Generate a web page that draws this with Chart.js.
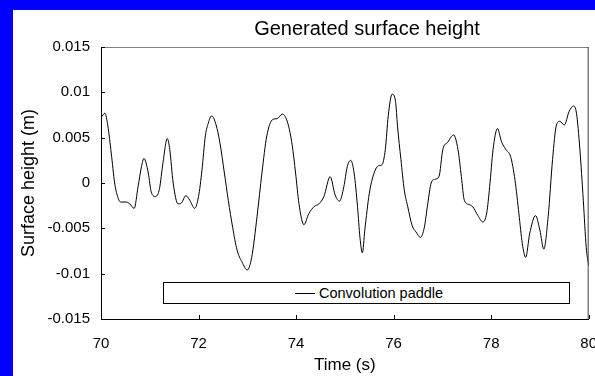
<!DOCTYPE html>
<html>
<head>
<meta charset="utf-8">
<script src="https://cdn.jsdelivr.net/npm/chart.js@4"></script>
<style>
    html, body { margin: 0; padding: 0; overflow: hidden; }
    body { width: 595px; height: 376px; background: #0000ff; position: relative; }
    #wrap { position: absolute; left: 13px; top: 10px; width: 600px; height: 366px; background: #fff; }
    #chart-title {
        position: absolute; left: 167px; width: 400px; top: 16px; text-align: center;
        font: 20px "Liberation Sans", Arial, sans-serif; color: #000; line-height: 24px;
    }
    #legend-box {
        position: absolute; left: 163px; top: 282px; width: 405px; height: 20px;
        border: 1px solid #000; background: #fff;
        font: 14.5px "Liberation Sans", Arial, sans-serif; color: #000;
    }
    #legend-box .sample { position: absolute; left: 131px; top: 10px; width: 20px; border-top: 1px solid #000; }
    #legend-box .label { position: absolute; left: 155px; top: 2px; }
</style>
</head>
<body>
<div id="wrap"><canvas id="wave-chart"></canvas></div>
<div id="chart-title"></div>
<div id="legend-box"><span class="sample"></span><span class="label" id="legend-label"></span></div>
<script>
    'use strict';

    var chartTitle = 'Generated surface height';
    var seriesName = 'Convolution paddle';
    var xTicks = [70, 72, 74, 76, 78, 80];
    var yTickLabels = ['-0.015', '-0.01', '-0.005', '0', '0.005', '0.01', '0.015'];

    // time (s) and surface height (m)
    var times = [
        70.00, 70.08, 70.14, 70.21, 70.28, 70.33, 70.40, 70.52, 70.59, 70.68,
        70.76, 70.83, 70.88, 70.97, 71.03, 71.12, 71.20, 71.27, 71.36, 71.41,
        71.48, 71.58, 71.65, 71.74, 71.82, 71.92, 72.00, 72.07, 72.14, 72.20,
        72.27, 72.36, 72.44, 72.53, 72.61, 72.70, 72.79, 72.89, 73.00, 73.09,
        73.20, 73.30, 73.40, 73.52, 73.61, 73.72, 73.83, 73.92, 73.99, 74.06,
        74.16, 74.26, 74.37, 74.47, 74.57, 74.70, 74.80, 74.89, 74.98, 75.05,
        75.12, 75.19, 75.26, 75.31, 75.36, 75.41, 75.50, 75.60, 75.69, 75.76,
        75.83, 75.89, 75.97, 76.04, 76.08, 76.15, 76.22, 76.29, 76.38, 76.46,
        76.55, 76.63, 76.70, 76.77, 76.84, 76.93, 77.01, 77.11, 77.23, 77.32,
        77.39, 77.45, 77.56, 77.62, 77.73, 77.83, 77.91, 77.97, 78.04, 78.13,
        78.21, 78.30, 78.40, 78.49, 78.57, 78.64, 78.71, 78.79, 78.91, 79.00,
        79.08, 79.17, 79.26, 79.34, 79.41, 79.50, 79.60, 79.69, 79.75, 79.82,
        79.89, 79.95, 80.00
    ];
    var heights = [
        0.0072, 0.0077, 0.0063, 0.0033, 0.0000, -0.0013, -0.0021, -0.0021, -0.0023, -0.0028,
        -0.0004, 0.0018, 0.0027, 0.0011, -0.0010, -0.0015, -0.0006, 0.0022, 0.0049, 0.0037,
        0.0000, -0.0023, -0.0022, -0.0014, -0.0019, -0.0028, -0.0015, 0.0014, 0.0052, 0.0066,
        0.0074, 0.0064, 0.0044, 0.0011, -0.0019, -0.0049, -0.0074, -0.0087, -0.0096, -0.0082,
        -0.0037, 0.0011, 0.0052, 0.0070, 0.0071, 0.0076, 0.0066, 0.0042, 0.0011, -0.0023,
        -0.0046, -0.0034, -0.0026, -0.0023, -0.0015, 0.0007, -0.0013, -0.0020, -0.0004, 0.0018,
        0.0025, 0.0011, -0.0026, -0.0060, -0.0077, -0.0052, -0.0012, 0.0011, 0.0019, 0.0020,
        0.0037, 0.0074, 0.0098, 0.0090, 0.0063, 0.0026, -0.0008, -0.0026, -0.0047, -0.0054,
        -0.0060, -0.0049, -0.0023, 0.0000, 0.0004, 0.0007, 0.0037, 0.0045, 0.0053, 0.0037,
        0.0007, -0.0019, -0.0024, -0.0026, -0.0036, -0.0043, -0.0033, -0.0004, 0.0037, 0.0060,
        0.0046, 0.0037, 0.0029, 0.0003, -0.0034, -0.0067, -0.0082, -0.0056, -0.0036, -0.0052,
        -0.0073, -0.0037, 0.0026, 0.0064, 0.0068, 0.0064, 0.0079, 0.0085, 0.0077, 0.0037,
        -0.0019, -0.0071, -0.0091
    ];

    document.getElementById('chart-title').textContent = chartTitle;
    document.getElementById('legend-label').textContent = seriesName;

    var points = times.map(function (t, i) { return { x: t, y: heights[i] }; });

    // inward tick marks plus the grey top / dark right border of the plot area
    var frameTicks = {
        id: 'frameTicks',
        afterDraw: function (chart) {
            var c = chart.ctx, a = chart.chartArea;
            var sx = chart.scales.x, sy = chart.scales.y;
            c.save();
            c.lineWidth = 1;
            c.strokeStyle = '#808080';
            c.beginPath();
            c.moveTo(a.left, a.top + 0.5);
            c.lineTo(a.right, a.top + 0.5);
            c.stroke();
            c.strokeStyle = '#404040';
            c.beginPath();
            c.moveTo(a.right - 0.5, a.top);
            c.lineTo(a.right - 0.5, a.bottom);
            c.stroke();
            c.strokeStyle = '#000';
            c.beginPath();
            sx.ticks.forEach(function (tk) {
                var px = Math.round(sx.getPixelForValue(tk.value)) + 0.5;
                c.moveTo(px, a.bottom);
                c.lineTo(px, a.bottom - 4);
            });
            sy.ticks.forEach(function (tk) {
                var py = Math.round(sy.getPixelForValue(tk.value)) + 0.5;
                c.moveTo(a.left, py);
                c.lineTo(a.left + 4, py);
            });
            c.stroke();
            c.restore();
        }
    };

    var family = '"Liberation Sans", Arial, sans-serif';
    var tickFont = { family: family, size: 15 };

    new Chart(document.getElementById('wave-chart'), {
        type: 'line',
        data: {
            datasets: [{
                label: seriesName,
                data: points,
                borderColor: '#000',
                borderWidth: 1,
                pointRadius: 0,
                fill: false,
                cubicInterpolationMode: 'monotone'
            }]
        },
        options: {
            responsive: true,
            maintainAspectRatio: false,
            animation: false,
            layout: { padding: { left: 5, right: 0, top: 37, bottom: 0 } },
            plugins: {
                legend: { display: false },
                tooltip: { enabled: false },
                title: { display: false }
            },
            scales: {
                x: {
                    type: 'linear',
                    min: 70,
                    max: 80,
                    afterBuildTicks: function (scale) {
                        scale.ticks = xTicks.map(function (v) { return { value: v }; });
                    },
                    afterFit: function (scale) { scale.height = 57; },
                    grid: { drawOnChartArea: false, drawTicks: false },
                    border: { display: true, color: '#000', width: 1 },
                    ticks: { color: '#000', font: tickFont, padding: 16, maxRotation: 0 },
                    title: { display: true, text: 'Time (s)', color: '#000', font: { family: family, size: 17 }, padding: { top: 0, bottom: 0 } }
                },
                y: {
                    min: -0.015,
                    max: 0.015,
                    afterBuildTicks: function (scale) {
                        scale.ticks = yTickLabels.map(function (s) { return { value: parseFloat(s) }; });
                    },
                    afterFit: function (scale) { scale.width = 83; },
                    grid: { drawOnChartArea: false, drawTicks: false },
                    border: { display: true, color: '#000', width: 1 },
                    ticks: {
                        color: '#000',
                        font: tickFont,
                        padding: 11,
                        callback: function (value, index) { return yTickLabels[index]; }
                    },
                    title: { display: true, text: 'Surface height (m)', color: '#000', font: { family: family, size: 18 }, padding: { top: 0, bottom: 2 } }
                }
            }
        },
        plugins: [frameTicks]
    });
</script>
</body>
</html>
